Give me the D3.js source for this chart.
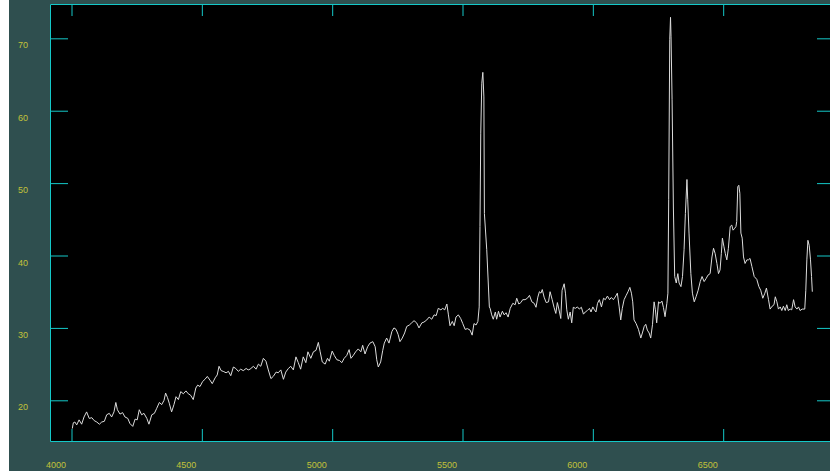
<!DOCTYPE html>
<html>
<head>
<meta charset="utf-8">
<script src="https://cdn.jsdelivr.net/npm/d3@7"></script>
<style>
  html, body { margin: 0; padding: 0; background: #ffffff; }
  svg { display: block; }
  .axis text { font-family: "Liberation Sans", Arial, sans-serif; font-size: 9px; fill: #c2c23a; }
  .axis path, .axis line { stroke: #14c8c8; stroke-width: 1; }
</style>
</head>
<body>
<svg id="chart" width="830" height="471"></svg>
<script>
// Spectrum: wavelength (Angstrom) and flux
const wavelength = [
  4003,4007,4013,4020,4029,4039,4048,4058,4068,4078,4087,4097,4107,4116,4126,4135,4145,4154,4163,4170,
  4176,4186,4196,4205,4216,4224,4235,4244,4252,4260,4269,4278,4289,4297,4308,4318,4327,4337,4346,4355,
  4361,4368,4375,4384,4393,4401,4410,4419,4429,4439,4448,4457,4467,4477,4484,4493,4503,4512,4521,4531,
  4540,4551,4559,4566,4574,4582,4593,4602,4611,4621,4630,4640,4649,4659,4670,4678,
  4685,4698,4708,4717,4726,4736,4746,4755,4765,4774,4785,4793,4803,4813,4822,4832,4841,4851,4861,4870,
  4879,4889,4899,4907,4918,4928,4938,4947,4954,4962,4973,4982,4989,5000,5008,5018,5028,5037,5046,5056,
  5065,5072,5081,5090,5100,5110,5117,5126,5136,5145,5156,5165,5171,5177,5186,5194,5200,5209,5218,5229,
  5237,5245,5253,5260,5269,5278,5286,5296,5305,5314,5324,5333,5344,5352,5363,5372,5382,5391,5399,5407,
  5417,5424,5432,5440,5446,5452,
  5461,5468,5475,5484,5493,5501,5510,5519,5529,5537,5544,5552,5559,5564,5567,5570,5574,5578,5582,5584,
  5593,5603,5606,5612,5618,5626,5631,5638,5644,5653,5660,5667,5675,5683,5693,5702,5708,5716,5724,5731,
  5740,5749,5757,5766,5775,5782,5789,5795,5801,5806,5813,5821,5830,5836,5844,5851,5858,5864,5872,5877,
  5882,5890,5895,5900,5906,5913,5919,5925,5933,5941,5948,5956,5964,5971,5979,5987,5993,6000,6006,6012,
  6018,6025,6033,6041,6048,6056,6064,6071,6079,6088,6094,6101,6107,6113,6120,6128,6135,6142,6148,6153,
  6158,6166,6175,6184,6190,6197,6203,6209,6216,6222,6229,6235,6240,6245,6252,6258,6265,6271,6277,6284,
  6288,6291,6295,6298,6300,6304,6309,6314,6320,6326,6331,6338,6344,6350,6355,6361,6364,6369,6376,6382,
  6389,6396,6404,6412,6419,6427,6435,6442,6450,6457,6463,6469,6476,6482,6488,6493,6497,6503,6508,6514,
  6520,6527,6533,6538,6543,6549,6552,6556,6560,6564,6568,6573,6578,6584,6591,6597,6603,6610,6619,6629,
  6637,6644,6652,6660,6666,6674,6680,6688,6695,6700,6706,6712,6719,6725,6731,6738,6744,6750,6757,6763,
  6770,6776,6783,6789,6795,6803,6813,6817,6821,6825,6830,6835,6839,6842
];
const flux = [
  16.1,16.9,17.0,16.6,17.3,16.7,17.7,18.4,17.5,17.6,17.2,17.0,16.7,17.0,17.1,18.0,18.2,17.7,18.4,19.7,
  18.7,18.1,18.3,17.7,17.5,16.8,16.4,17.4,17.3,18.7,18.0,18.2,17.5,16.7,18.0,18.2,18.9,19.7,19.4,20.0,
  21.0,20.4,19.6,18.4,19.4,20.5,20.1,21.2,20.9,21.3,20.9,20.7,20.1,21.7,22.1,21.9,22.6,22.9,23.3,22.8,
  22.3,23.1,23.5,24.7,24.1,24.0,23.8,24.0,23.4,24.6,24.4,24.0,24.3,24.1,24.4,24.2,
  24.3,24.7,24.3,25.0,24.7,25.8,25.4,24.2,23.0,23.3,23.9,23.8,24.2,22.9,23.9,24.4,24.7,24.2,26.0,25.2,
  24.3,26.0,25.2,26.7,25.8,26.7,26.9,28.0,26.7,25.3,25.0,25.8,25.4,26.8,26.2,25.6,25.5,25.2,25.8,26.2,
  27.0,25.8,26.2,26.7,27.1,26.7,27.6,26.4,27.4,27.9,28.1,27.4,25.6,24.6,25.3,26.9,27.9,28.6,27.9,29.5,
  30.0,29.8,29.1,28.1,28.6,29.3,30.2,30.4,30.7,31.0,30.7,30.0,30.7,30.8,31.1,31.5,31.2,31.8,31.7,32.7,
  32.5,32.7,32.5,33.3,31.8,30.3,
  30.9,30.3,31.5,31.8,31.3,30.6,29.8,29.9,29.7,29.0,30.6,30.4,30.9,32.9,44.0,56.9,63.8,65.3,61.9,45.8,
  40.8,32.9,32.7,31.8,31.2,32.2,31.2,32.3,31.5,32.3,31.8,32.1,31.5,32.7,33.4,33.2,34.1,33.3,33.5,33.9,
  33.9,34.1,34.5,33.6,33.4,32.85,34.25,35.0,34.8,35.3,34.25,33.5,33.6,35.0,33.9,32.85,32.0,33.5,32.2,31.3,
  35.2,36.1,34.8,32.5,31.2,32.2,30.7,32.85,32.7,32.9,32.6,32.85,31.9,32.2,32.4,32.7,32.2,32.9,32.5,32.2,
  33.4,33.9,32.9,34.1,33.9,34.4,33.9,34.2,33.9,34.4,34.8,32.9,31.1,32.7,33.9,34.5,35.0,35.6,34.8,33.6,
  31.1,30.6,29.8,28.6,29.3,30.2,30.5,29.7,29.3,28.6,30.5,33.6,32.5,30.7,33.6,33.4,33.7,32.8,31.55,33.4,
  34.8,47.7,69.8,72.9,70.2,61.5,46.7,37.1,36.2,37.5,36.2,35.7,37.1,40.8,45.8,50.5,47.7,43.1,37.5,34.8,
  33.6,34.3,35.2,36.4,37.1,36.4,36.85,37.3,37.5,39.8,41.0,40.3,38.9,37.5,38.0,40.3,42.4,41.2,40.3,39.4,
  41.0,44.0,44.2,43.5,43.7,44.0,44.7,49.5,49.7,48.6,43.1,42.4,39.8,38.9,39.4,39.4,39.6,38.5,37.1,36.7,
  35.7,35.2,34.1,34.8,35.5,33.9,32.6,33.0,33.2,34.3,33.6,32.6,32.9,32.4,33.0,32.4,33.2,32.4,32.6,32.5,
  33.9,32.9,32.6,32.9,32.4,32.6,32.6,35.2,39.4,42.1,41.4,39.4,37.1,35.0
];
const xTickValues = [4000, 4500, 5000, 5500, 6000, 6500];
const yTickValues = [20, 30, 40, 50, 60, 70];

const width = 830, height = 471;
const svg = d3.select("#chart");

// outer panel and left white strip
svg.append("rect").attr("x", 0).attr("y", 0).attr("width", width).attr("height", height).attr("fill", "#2f4f4f");
svg.append("rect").attr("x", 0).attr("y", 0).attr("width", 9).attr("height", height).attr("fill", "#ffffff");

const plot = { left: 50, right: 835, top: 4, bottom: 441 };
svg.append("rect")
  .attr("x", plot.left).attr("y", plot.top)
  .attr("width", plot.right - plot.left).attr("height", plot.bottom - plot.top)
  .attr("fill", "#000000");

const x = d3.scaleLinear().domain([3917.5, 6929]).range([plot.left, plot.right]);
const y = d3.scaleLinear().domain([14.38, 74.74]).range([plot.bottom, plot.top]);

// spectrum trace
const pts = wavelength.map((w, i) => [w, flux[i]]);
const line = d3.line().x(d => x(d[0])).y(d => y(d[1]));
svg.append("path")
  .datum(pts)
  .attr("d", line)
  .attr("fill", "none")
  .attr("stroke", "#dcdcdc")
  .attr("stroke-width", 1)
  .attr("stroke-linejoin", "round");

// axes: ticks point inward on all four sides
const gBottom = svg.append("g").attr("class", "axis")
  .attr("transform", `translate(0,${plot.bottom})`)
  .call(d3.axisBottom(x).tickValues(xTickValues).tickSize(-12).tickSizeOuter(0).tickFormat(d3.format("d")));
gBottom.selectAll("text")
  .attr("text-anchor", "end").attr("x", -6).attr("y", 26.5).attr("dy", 0);

const gTop = svg.append("g").attr("class", "axis")
  .attr("transform", `translate(0,${plot.top})`)
  .call(d3.axisTop(x).tickValues(xTickValues).tickSize(-12).tickSizeOuter(0).tickFormat(""));

const gLeft = svg.append("g").attr("class", "axis")
  .attr("transform", `translate(${plot.left},0)`)
  .call(d3.axisLeft(y).tickValues(yTickValues).tickSize(-18).tickSizeOuter(0).tickFormat(d3.format("d")));
gLeft.selectAll("text")
  .attr("text-anchor", "end").attr("x", -22).attr("y", 9.5).attr("dy", 0);

const gRight = svg.append("g").attr("class", "axis")
  .attr("transform", `translate(${plot.right},0)`)
  .call(d3.axisRight(y).tickValues(yTickValues).tickSize(-18).tickSizeOuter(0).tickFormat(""));
</script>
</body>
</html>
